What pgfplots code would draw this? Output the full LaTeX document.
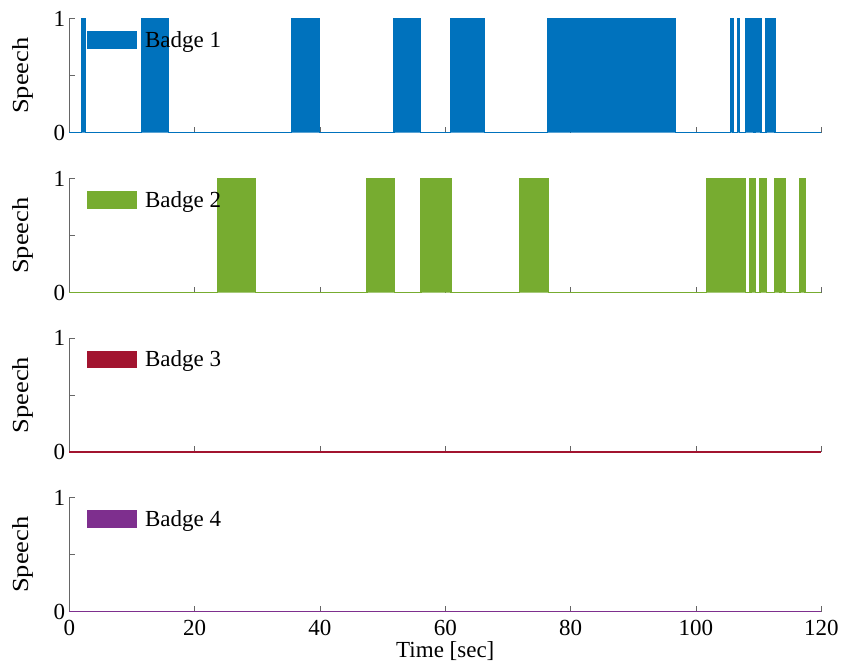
\documentclass[border=0pt]{standalone}
\usepackage{fontspec}
\setmainfont{Liberation Serif}
\usepackage{pgfplots}
\pgfplotsset{compat=1.18}
\definecolor{c1}{RGB}{0,114,189}
\definecolor{c2}{RGB}{119,172,48}
\definecolor{c3}{RGB}{162,20,47}
\definecolor{c4}{RGB}{126,47,142}
\newcommand{\bigfont}{\fontsize{23}{27}\selectfont}
\pgfplotsset{
 badge/.style={
  width=752pt, height=114pt, scale only axis, anchor=south west,
  xmin=0, xmax=120, ymin=0, ymax=1,
  axis x line*=bottom, axis y line*=left,
  axis line style={black!60, line width=0.8pt, -},
  x axis line style={draw=none},
  xtick={0,20,...,120}, ytick={0,1}, minor ytick={0.5},
  yticklabels={0,1},
  tick align=inside, major tick length=6pt, minor tick length=6pt,
  every tick/.style={black!60, line width=0.8pt},
  font=\bigfont,
  /pgf/number format/assume math mode=true,
  yticklabel style={inner sep=1pt, xshift=-3pt, font=\bigfont},
  xticklabel style={inner sep=0pt, yshift=-8pt, font=\bigfont},
  ylabel={Speech},
  ylabel style={at={(axis description cs:-0.048,0.5)}, anchor=south, rotate=0, inner sep=0pt, font=\bigfont, xscale=1.15},
  clip=false,
  legend style={draw=none, fill=none, at={(0,0.813)}, anchor=west, xshift=17.4pt, inner sep=0pt, font=\bigfont},
  legend image code/.code={\fill[##1] (0pt,-8pt) rectangle (49pt,8pt); \path (55pt,0pt);},
 }
}
\begin{document}
\begin{tikzpicture}
\useasboundingbox (0,0) rectangle (843pt,664pt);
% Badge 1
\begin{axis}[badge, at={(69.3pt,531.3pt)}, xticklabels={}]
\addplot[draw=c1, fill=c1, line width=1.2pt] coordinates {
(0,0) (2.0,0) (2.0,1) (2.6,1) (2.6,0)
(11.55,0) (11.55,1) (15.8,1) (15.8,0)
(35.5,0) (35.5,1) (39.9,1) (39.9,0)
(51.8,0) (51.8,1) (56.1,1) (56.1,0)
(60.85,0) (60.85,1) (66.3,1) (66.3,0)
(76.25,0) (76.25,1) (96.75,1) (96.75,0)
(105.55,0) (105.55,1) (105.9,1) (105.9,0)
(106.65,0) (106.65,1) (106.97,1) (106.97,0)
(107.87,0) (107.87,1) (109.14,1) (109.14,0)
(109.41,0) (109.41,1) (110.37,1) (110.37,0)
(111.17,0) (111.17,1) (112.6,1) (112.6,0)
(120,0)};
\addlegendentry{Badge 1}
\end{axis}
% Badge 2
\begin{axis}[badge, at={(69.3pt,371.3pt)}, xticklabels={}]
\addplot[draw=c2, fill=c2, line width=1.2pt] coordinates {
(0,0) (23.62,0) (23.62,1) (29.74,1) (29.74,0)
(47.5,0) (47.5,1) (51.86,1) (51.86,0)
(56.12,0) (56.12,1) (60.91,1) (60.91,0)
(71.81,0) (71.81,1) (76.43,1) (76.43,0)
(101.71,0) (101.71,1) (107.95,1) (107.95,0)
(108.5,0) (108.5,1) (108.65,1) (108.65,0)
(108.78,0) (108.78,1) (109.46,1) (109.46,0)
(110.21,0) (110.21,1) (111.28,1) (111.28,0)
(112.49,0) (112.49,1) (113.4,1) (113.4,0)
(113.67,0) (113.67,1) (114.2,1) (114.2,0)
(116.6,0) (116.6,1) (117.4,1) (117.4,0)
(120,0)};
\addlegendentry{Badge 2}
\end{axis}
% Badge 3
\begin{axis}[badge, at={(69.3pt,212pt)}, xticklabels={}]
\addplot[draw=c3, fill=c3, line width=1.2pt] coordinates {(0,0) (120,0)};
\addlegendentry{Badge 3}
\end{axis}
% Badge 4
\begin{axis}[badge, at={(69.3pt,52.3pt)}, xticklabels={0,20,40,60,80,100,120}, xlabel={Time [sec]}, xlabel style={inner sep=0pt, yshift=-6pt, font=\bigfont}]
\addplot[draw=c4, fill=c4, line width=1.2pt] coordinates {(0,0) (120,0)};
\addlegendentry{Badge 4}
\end{axis}
\end{tikzpicture}
\end{document}
